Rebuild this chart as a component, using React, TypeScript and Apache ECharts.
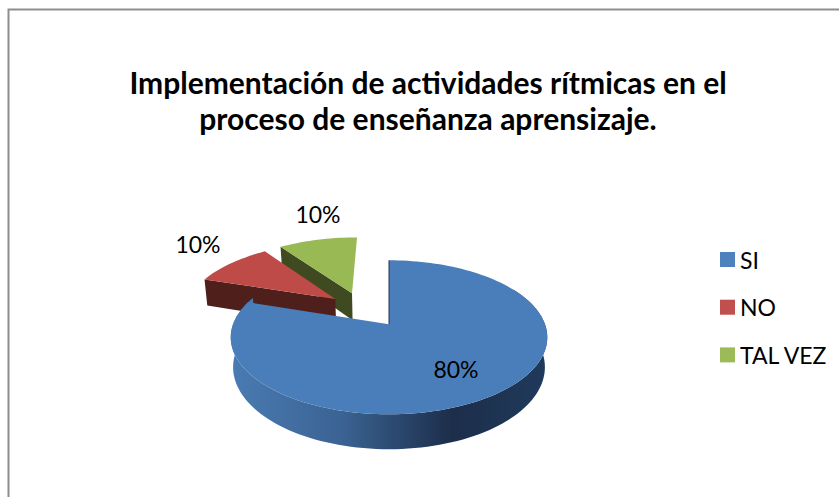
import React, { useEffect, useRef } from "react";
import * as echarts from "echarts";

const categories = ["SI", "NO", "TAL VEZ"];
const values = [80, 10, 10];
const topColors = ["#4a7ebb", "#be4b48", "#98b954"];
const legendColors = ["#4f81bd", "#c0504d", "#9bbb59"];
const wallColors = ["#1f3553", "#4f1f1c", "#3f4a20"];
const explodeX = [0, -0.365, -0.255];
const explodeY = [0, -0.359, -0.446];
const labelX = [456, 198, 318];
const labelY = [369, 244, 214];
const titleLines = ["Implementación de actividades rítmicas en el", "proceso de enseñanza aprensizaje."];

const CX = 389, CY = 324.3, R = 156, TILT = 74.8, PERSP = 0.169, DEPTH = 29, SHRINK = 0.985;
const FONT = "Lato, Carlito, Calibri, sans-serif";
const total = values.reduce((a, b) => a + b, 0);

function project(X: number, Y: number, low: boolean): number[] {
  const den = 1 - PERSP * Y;
  const sx = (R * X) / den;
  const sy = (TILT * Y) / den;
  if (!low) return [CX + sx, CY + sy];
  return [CX + sx * SHRINK, CY + sy + DEPTH / den];
}
function rim(deg: number, ox: number, oy: number, low = false): number[] {
  const a = (deg * Math.PI) / 180;
  return project(ox + Math.sin(a), oy - Math.cos(a), low);
}
function arcPoints(from: number, to: number, ox: number, oy: number, low = false): number[][] {
  const pts: number[][] = [];
  const steps = Math.max(2, Math.ceil(Math.abs(to - from) / 2));
  for (let i = 0; i <= steps; i++) pts.push(rim(from + ((to - from) * i) / steps, ox, oy, low));
  return pts;
}

function makeRender(idx: number) {
  return (_p: any, api: any) => {
    const value = api.value(0) as number;
    const before = values.slice(0, idx).reduce((a, b) => a + b, 0);
    const start = (before / total) * 360;
    const end = start + (value / total) * 360;
    const ox = explodeX[idx], oy = explodeY[idx];
    const apex = project(ox, oy, false);
    const apexLow = project(ox, oy, true);
    const children: any[] = [];
    if (idx === 0) {
      const upper = arcPoints(60, 292, ox, oy);
      const lower = arcPoints(292, 60, ox, oy, true);
      children.push({
        type: "polygon",
        shape: { points: [...upper, ...lower] },
        style: {
          fill: new echarts.graphic.LinearGradient(0, 0, 1, 0, [
            { offset: 0, color: "#4a7bb3" },
            { offset: 0.35, color: "#3b6393" },
            { offset: 0.7, color: "#1c2e4a" },
            { offset: 1, color: "#203a5c" },
          ]),
        },
      });
    } else {
      children.push({
        type: "polygon",
        shape: { points: [apex, rim(start, ox, oy), rim(start, ox, oy, true), apexLow] },
        style: { fill: wallColors[idx] },
      });
    }
    children.push({
      type: "polygon",
      shape: { points: [apex, ...arcPoints(start, end, ox, oy)] },
      style: { fill: topColors[idx] },
    });
    if (idx === 0) {
      children.push({
        type: "polyline",
        shape: { points: [apex, rim(0, ox, oy)] },
        style: { stroke: wallColors[0], lineWidth: 1, fill: "none" },
      });
    }
    children.push({
      type: "text",
      style: {
        text: `${value}%`,
        x: labelX[idx],
        y: labelY[idx],
        fill: "#000",
        font: `23px ${FONT}`,
        textAlign: "center",
        textVerticalAlign: "middle",
      },
    });
    return { type: "group", children };
  };
}

export default function App() {
  const ref = useRef<HTMLDivElement>(null);
  useEffect(() => {
    const chart = echarts.init(ref.current!, null, { renderer: "svg" });
    chart.setOption({
      animation: false,
      backgroundColor: "#fff",
      title: {
        text: titleLines.join("\n"),
        left: 428,
        top: 64,
        textAlign: "center",
        textStyle: { fontFamily: FONT, fontWeight: "bold", fontSize: 30, lineHeight: 36, color: "#000" },
        padding: 0,
      },
      legend: {
        data: categories,
        orient: "vertical",
        left: 720,
        top: 248,
        padding: 0,
        icon: "rect",
        itemWidth: 15,
        itemHeight: 15,
        itemGap: 24.7,
        selectedMode: false,
        textStyle: { fontFamily: FONT, fontSize: 23, lineHeight: 23, color: "#000", padding: 0 },
      },
      graphic: [
        {
          type: "rect",
          shape: { x: 8.5, y: 9.5, width: 900, height: 600 },
          style: { fill: "none", stroke: "#8e8e8e", lineWidth: 2 },
          silent: true,
        },
      ],
      series: [2, 1, 0].map((idx) => ({
        type: "custom",
        name: categories[idx],
        coordinateSystem: "none",
        itemStyle: { color: legendColors[idx] },
        silent: true,
        data: [[values[idx]]],
        renderItem: makeRender(idx),
      })),
    });
    return () => chart.dispose();
  }, []);
  return <div ref={ref} style={{ position: "fixed", left: 0, top: 0, width: 839, height: 497 }} />;
}
